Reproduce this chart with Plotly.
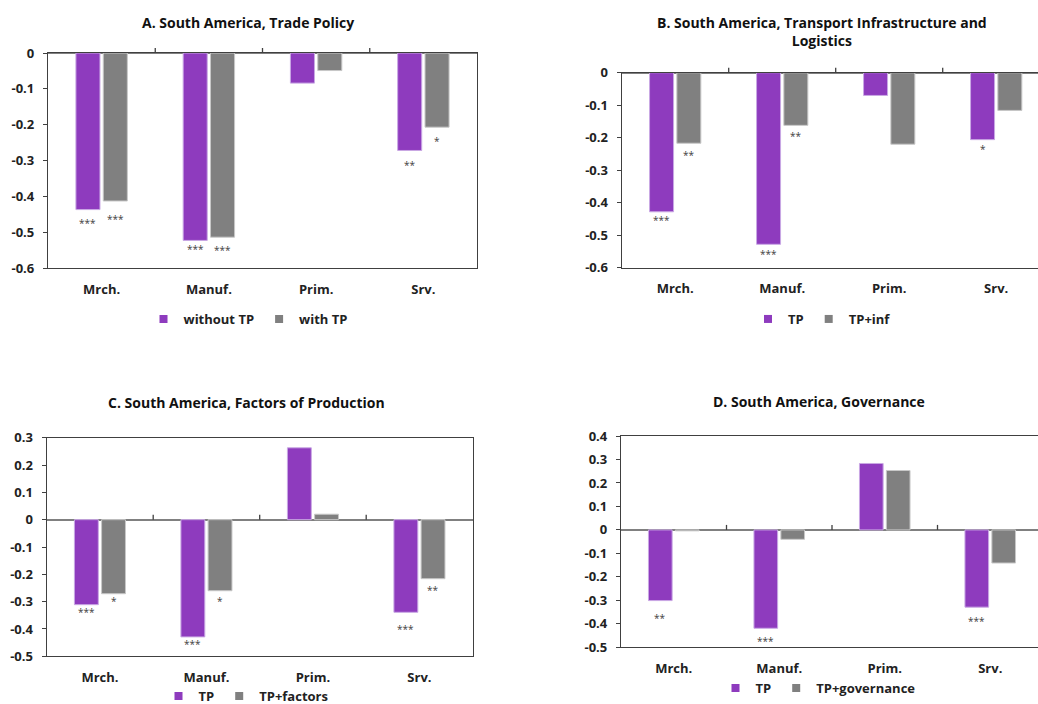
import plotly.graph_objects as go

# ---------------- data ----------------
categories = ["Mrch.", "Manuf.", "Prim.", "Srv."]

titles = [
    "A. South America, Trade Policy",
    "B. South America, Transport Infrastructure and<br>Logistics",
    "C. South America, Factors of Production",
    "D. South America, Governance",
]

series_names = [
    ["without TP", "with TP"],
    ["TP", "TP+inf"],
    ["TP", "TP+factors"],
    ["TP", "TP+governance"],
]

# panel A
a_purple = [-0.437, -0.523, -0.084, -0.272]
a_gray = [-0.413, -0.514, -0.049, -0.207]
# panel B
b_purple = [-0.428, -0.528, -0.070, -0.206]
b_gray = [-0.217, -0.162, -0.220, -0.116]
# panel C
c_purple = [-0.311, -0.429, 0.263, -0.339]
c_gray = [-0.271, -0.260, 0.020, -0.216]
# panel D
d_purple = [-0.301, -0.419, 0.283, -0.329]
d_gray = [-0.004, -0.040, 0.253, -0.141]

# significance stars and the value level where each one is printed
a_stars_p = ["***", "***", "", "**"]
a_stars_g = ["***", "***", "", "*"]
a_star_y_p = [-0.468, -0.541, None, -0.306]
a_star_y_g = [-0.457, -0.543, None, -0.241]

b_stars_p = ["***", "***", "", "*"]
b_stars_g = ["**", "**", "", ""]
b_star_y_p = [-0.446, -0.551, None, -0.230]
b_star_y_g = [-0.246, -0.188, None, None]

c_stars_p = ["***", "***", "", "***"]
c_stars_g = ["*", "*", "", "**"]
c_star_y_p = [-0.330, -0.446, None, -0.391]
c_star_y_g = [-0.291, -0.291, None, -0.249]

d_stars_p = ["**", "***", "", "***"]
d_stars_g = ["", "", "", ""]
d_star_y_p = [-0.366, -0.464, None, -0.379]
d_star_y_g = [None, None, None, None]

y_ranges = [[-0.6, 0.0], [-0.6, 0.0], [-0.5, 0.3], [-0.5, 0.4]]

# ---------------- styling ----------------
W, H = 1038, 704
PURPLE = "#8E3BBE"
GRAY = "#808080"
FONT = "Open Sans"
BARGAP = 0.49
BARGROUPGAP = 0.12

# pixel boxes of the plot areas: (left, right, top, bottom)
boxes = [
    (48, 477, 53, 268),
    (621.7, 1049.7, 72.7, 267.7),
    (46.7, 472.7, 437.7, 656.3),
    (621, 1043, 436, 647.3),
]
title_pos = [(248, 22), (822, 32), (246, 402), (819, 401)]
legend_pos = [(248, 319), (822, 319), (246, 696), (818, 688)]

panels = [
    (a_purple, a_gray, a_stars_p, a_stars_g, a_star_y_p, a_star_y_g),
    (b_purple, b_gray, b_stars_p, b_stars_g, b_star_y_p, b_star_y_g),
    (c_purple, c_gray, c_stars_p, c_stars_g, c_star_y_p, c_star_y_g),
    (d_purple, d_gray, d_stars_p, d_stars_g, d_star_y_p, d_star_y_g),
]

fig = go.Figure()
annotations = []
shapes = []
layout = {}

slot = (1 - BARGAP) / 2
offset = slot / 2

for i, (pv, gv, sp, sg, syp, syg) in enumerate(panels):
    n = i + 1
    xs = "" if n == 1 else str(n)
    xa, ya = "x" + xs, "y" + xs
    leg = "legend" if n == 1 else f"legend{n}"

    for vals, color, edge, name in (
        (pv, PURPLE, "#C9A8E4", series_names[i][0]),
        (gv, GRAY, "#C8C8C8", series_names[i][1]),
    ):
        fig.add_trace(go.Bar(
            x=categories, y=vals, name=name, xaxis=xa, yaxis=ya,
            marker=dict(color=color, line=dict(color=edge, width=1)),
            showlegend=False, hoverinfo="y",
        ))
    # legend keys: small squares like the reference
    for color, name in ((PURPLE, series_names[i][0]), (GRAY, series_names[i][1])):
        fig.add_trace(go.Scatter(
            x=[None], y=[None], mode="markers", name=name, xaxis=xa, yaxis=ya,
            marker=dict(symbol="square", size=8, color=color),
            legend=leg, hoverinfo="skip",
        ))

    l, r, t, b = boxes[i]
    right_px = min(r, W)
    x_end = -0.5 + len(categories) * (right_px - l) / (r - l)
    x_range = [-0.5, x_end]
    dom_x = [l / W, right_px / W]
    dom_y = [1 - b / H, 1 - t / H]
    clipped = r > W

    yr = y_ranges[i]
    nt = int(round((yr[1] - yr[0]) / 0.1))
    tvals = [round(yr[0] + k * 0.1, 1) for k in range(nt + 1)]
    ttext = [f"{v:g}" if abs(v) > 1e-9 else "0" for v in tvals]

    layout["xaxis" + xs] = dict(
        domain=dom_x, anchor=ya, type="category", categoryorder="array",
        categoryarray=categories, range=x_range, showline=True, mirror=True,
        linecolor="#404040", linewidth=1.3, ticks="", showgrid=False,
        tickfont=dict(family=FONT, size=13, color="#222", weight="bold"),
        ticklabelstandoff=9, fixedrange=True,
    )
    layout["yaxis" + xs] = dict(
        domain=dom_y, anchor=xa, range=yr, tickvals=tvals, ticktext=ttext,
        showline=True, mirror=not clipped, linecolor="#404040", linewidth=1.3,
        ticks="outside", ticklen=4, tickcolor="#404040", showgrid=False,
        zeroline=True, zerolinecolor="#808080", zerolinewidth=1.6,
        tickfont=dict(family=FONT, size=13, color="#222", weight="bold"),
        ticklabelstandoff=6, fixedrange=True,
    )

    # category boundary tick marks on the zero line (pointing up)
    zero_frac = (0 - yr[0]) / (yr[1] - yr[0])
    for bnd in [0.5, 1.5, 2.5]:
        xf = (bnd - x_range[0]) / (x_range[1] - x_range[0])
        shapes.append(dict(
            type="line", xref=xa + " domain", yref=ya + " domain",
            x0=xf, x1=xf, ysizemode="pixel", yanchor=zero_frac, y0=0, y1=5,
            line=dict(color="#404040", width=1.3),
        ))

    # title
    tx, ty = title_pos[i]
    annotations.append(dict(
        xref="paper", yref="paper", x=tx / W, y=1 - ty / H,
        xanchor="center", yanchor="middle", showarrow=False,
        text="<b>" + titles[i] + "</b>",
        font=dict(family=FONT, size=14, color="#111"),
    ))

    # significance stars
    for k in range(len(categories)):
        for stars, sy, dx in ((sp, syp, -offset), (sg, syg, offset)):
            if stars[k] and sy[k] is not None:
                annotations.append(dict(
                    xref=xa, yref=ya, x=k + dx, y=sy[k], text=stars[k],
                    showarrow=False, xanchor="center", yanchor="middle",
                    yshift=-2,
                    font=dict(family=FONT, size=10, color="#404040"),
                ))

    lx, ly = legend_pos[i]
    layout[leg] = dict(
        orientation="h", x=lx / W, y=1 - ly / H, xanchor="center",
        yanchor="middle", bgcolor="rgba(0,0,0,0)",
        font=dict(family=FONT, size=13, color="#222", weight="bold"),
        itemwidth=30, tracegroupgap=0, itemclick=False,
    )

fig.update_layout(
    width=W, height=H,
    margin=dict(l=0, r=0, t=0, b=0, autoexpand=False),
    plot_bgcolor="white", paper_bgcolor="white",
    barmode="group", bargap=BARGAP, bargroupgap=BARGROUPGAP,
    annotations=annotations, shapes=shapes, showlegend=True,
    **layout,
)

fig.write_html(
    "out.html",
    config={"displayModeBar": False},
    post_script="document.body.style.margin='0';document.body.style.overflow='hidden';",
)
